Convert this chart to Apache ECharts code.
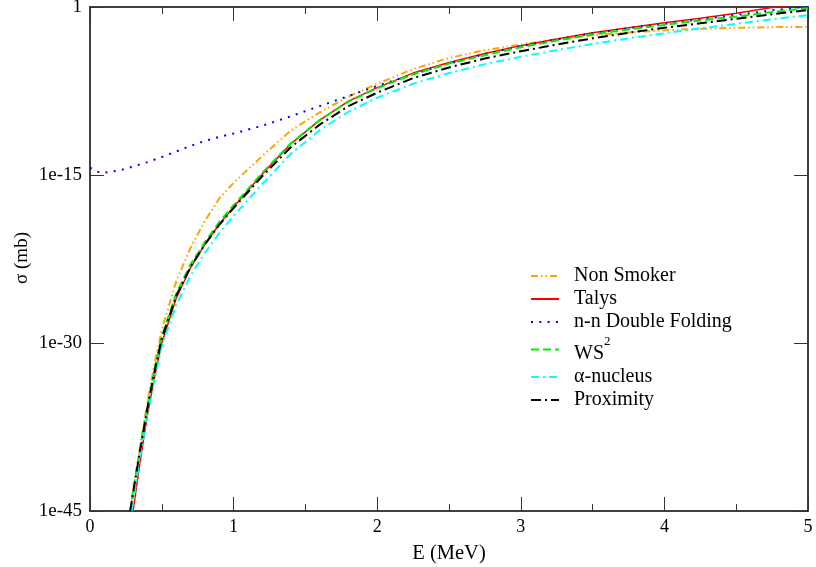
<!DOCTYPE html>
<html>
<head>
<meta charset="utf-8">
<script src="https://cdn.jsdelivr.net/npm/echarts@6/dist/echarts.min.js"></script>
<style>html,body{margin:0;padding:0;background:#fff}#c{width:816px;height:567px}</style>
</head>
<body>
<div id="c"></div>
<script>
// Energy grid (MeV) shared by the Coulomb-barrier curves
const E_GRID = [0.30,0.35,0.40,0.45,0.50,0.60,0.70,0.80,0.90,1.00,1.20,1.40,1.60,1.80,2.00,2.25,2.50,2.75,3.00,3.25,3.50,3.75,4.00,4.25,4.50,4.75,5.00];
// log10 of sigma (mb)
const talysLog = [-45,-40.5,-36.4,-33.0,-30.0,-26.0,-23.3,-21.2,-19.4,-17.85,-14.9,-12.2,-10.1,-8.4,-7.2,-5.9,-4.95,-4.15,-3.45,-2.85,-2.3,-1.85,-1.4,-1.0,-0.55,-0.05,0.35];
const ws2Log = [-43.2,-39.3,-35.6,-32.3,-29.4,-25.6,-23.0,-21.0,-19.2,-17.7,-14.8,-12.15,-10.1,-8.45,-7.25,-6.0,-5.05,-4.3,-3.6,-3.0,-2.45,-2.0,-1.6,-1.2,-0.85,-0.45,-0.1];
const proxLog = [-43.4,-39.5,-35.8,-32.5,-29.6,-25.8,-23.2,-21.2,-19.45,-17.95,-15.1,-12.5,-10.5,-8.85,-7.65,-6.35,-5.4,-4.6,-3.95,-3.35,-2.8,-2.3,-1.85,-1.45,-1.05,-0.65,-0.27];
const alphaLog = [-44.2,-40.1,-36.4,-33.2,-30.3,-26.6,-24.0,-21.95,-20.2,-18.65,-15.8,-13.1,-11.0,-9.35,-8.1,-6.85,-5.9,-5.1,-4.45,-3.85,-3.3,-2.8,-2.35,-1.9,-1.5,-1.1,-0.72];
const nonSmokerLog = [-43.3,-39.2,-35.3,-31.8,-28.8,-24.5,-21.5,-19.1,-17.1,-15.7,-13.3,-11.0,-9.4,-8.0,-6.85,-5.55,-4.55,-3.85,-3.35,-2.88,-2.52,-2.27,-2.08,-1.95,-1.86,-1.8,-1.77];
// first visible point (at the 1e-45 floor) for each curve
const startPoints = { ws2: [0.28,-45], prox: [0.28,-45], alpha: [0.29,-45], nonSmoker: [0.28,-45] };
// n-n double folding curve on its own grid
const E_DF = [0,0.05,0.1,0.2,0.3,0.4,0.5,0.6,0.7,0.8,0.9,1.0,1.2,1.4,1.6,1.8,2.0,2.25,2.5,2.75,3.0,3.25,3.5,3.75,4.0,4.25,4.5,4.75,5.0];
const doubleFoldLog = [-14.35,-14.7,-14.8,-14.6,-14.25,-13.85,-13.4,-12.9,-12.4,-11.95,-11.6,-11.3,-10.6,-9.75,-8.85,-7.95,-7.05,-6.0,-5.05,-4.2,-3.5,-2.9,-2.35,-1.9,-1.5,-1.1,-0.7,-0.3,0.05];
const X_TICKS = [0,1,2,3,4,5];
const Y_TICK_LABELS = ['1e-45','1e-30','1e-15','1'];
const LEGEND_NAMES = ['Non Smoker','Talys','n-n Double Folding','WS2','α-nucleus','Proximity'];

function build(es, logs, start) {
  const d = [];
  if (start) d.push([start[0], Math.pow(10, start[1])]);
  for (let i = 0; i < es.length; i++) d.push([es[i], Math.pow(10, logs[i])]);
  return d;
}

const FONT = 'Liberation Serif';
const chart = echarts.init(document.getElementById('c'), null, {renderer:'canvas', width:816, height:567});
const tickStyle = {color:'#333', width:1};
const axisLine = {show:true, onZero:false, lineStyle:{color:'#000', width:1.5}};
function xAx(pos, showLabel, name) {
  return {
    type:'value', position:pos, min:X_TICKS[0], max:X_TICKS[X_TICKS.length-1], interval:1,
    name: name || '', nameLocation:'middle', nameGap:32,
    nameTextStyle:{fontFamily:FONT, fontSize:20.5, color:'#000'},
    axisLine: axisLine,
    axisTick:{show:true, inside:true, length:14, lineStyle:tickStyle},
    minorTick:{show:true, splitNumber:2, length:7, lineStyle:tickStyle},
    axisLabel:{show:showLabel, fontFamily:FONT, fontSize:18, color:'#000', margin:7,
      showMinLabel:true, showMaxLabel:true},
    splitLine:{show:false}, minorSplitLine:{show:false}
  };
}
function yLabel(v) {
  if (!(v > 0)) return Y_TICK_LABELS[0];
  const e = Math.round(Math.log10(v) / 15);
  return Y_TICK_LABELS[e + 3] || '';
}
function yAx(pos, showLabel) {
  return {
    type:'log', logBase:1e15, position:pos, min:0.99999e-45, max:1,
    axisLine: axisLine,
    axisTick:{show:true, inside:true, length:14, lineStyle:tickStyle},
    axisLabel:{show:showLabel, fontFamily:FONT, fontSize:19, color:'#000', margin:8,
      showMinLabel:true, showMaxLabel:true, hideOverlap:false, formatter: yLabel},
    splitLine:{show:false}
  };
}
function line(name, data, color, type, width) {
  return {name, type:'line', data, symbol:'none', showSymbol:false, clip:true,
    xAxisIndex:0, yAxisIndex:0,
    lineStyle:{color, type, width: width || 2, cap:'butt'}, itemStyle:{color}};
}

chart.setOption({
  animation:false,
  backgroundColor:'#fff',
  grid:{left:90, top:7, right:8, bottom:56, containLabel:false, outerBoundsMode:'none'},
  xAxis:[xAx('bottom', true, 'E (MeV)'), xAx('top', false)],
  yAxis:[yAx('left', true), yAx('right', false)],
  graphic:[{
    type:'text', x:22, y:258, rotation:Math.PI/2, silent:true,
    style:{text:'σ (mb)', fontFamily:FONT, fontSize:19, fill:'#000', align:'center', verticalAlign:'middle'}
  }],
  legend:{
    orient:'vertical', left:530, top:266, padding:0, itemWidth:28, itemHeight:14, itemGap:3,
    itemStyle:{opacity:0},
    textStyle:{fontFamily:FONT, fontSize:20, lineHeight:20, color:'#000', padding:[0,0,0,10],
      rich:{
        b:{fontFamily:FONT, fontSize:20, lineHeight:29, verticalAlign:'bottom', color:'#000'},
        sup:{fontFamily:FONT, fontSize:13, lineHeight:29, verticalAlign:'top', color:'#000'}
      }},
    formatter: n => n === 'WS2' ? '{b|WS}{sup|2}' : n,
    data: LEGEND_NAMES
  },
  series:[
    line('Non Smoker', build(E_GRID, nonSmokerLog, startPoints.nonSmoker), '#FFA500', [7,3,1.5,3,1.5,3], 2),
    line('Talys', build(E_GRID, talysLog), '#FF0000', 'solid', 1.5),
    line('n-n Double Folding', build(E_DF, doubleFoldLog), '#0000FF', [2,6.3], 2),
    line('WS2', build(E_GRID, ws2Log, startPoints.ws2), '#00EE00', [8,4], 2),
    line('α-nucleus', build(E_GRID, alphaLog, startPoints.alpha), '#00FFFF', [8,4,2,4], 2),
    line('Proximity', build(E_GRID, proxLog, startPoints.prox), '#000000', [10,4,2,4], 2)
  ]
});
</script>
</body>
</html>
